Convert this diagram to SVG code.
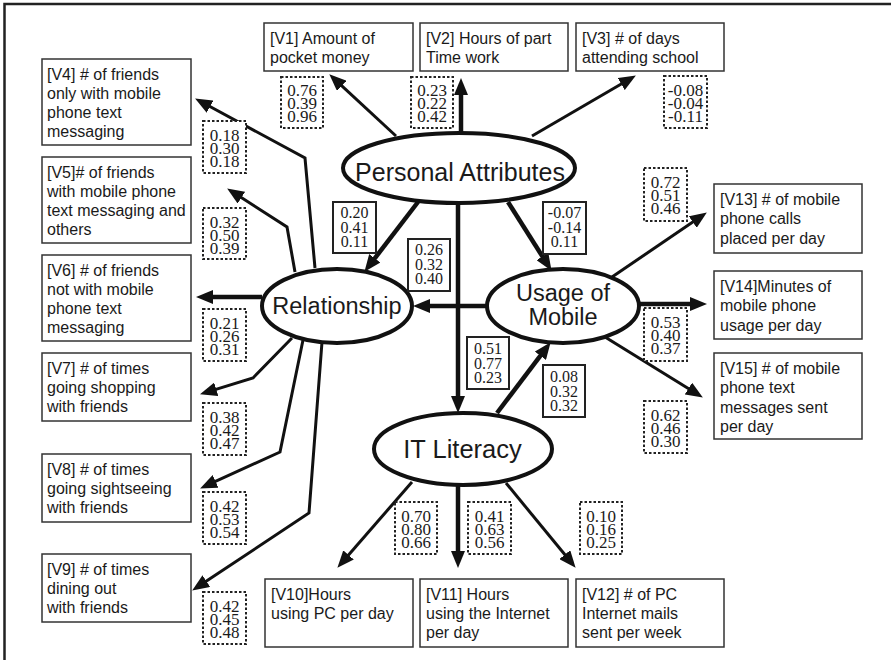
<svg xmlns="http://www.w3.org/2000/svg" width="891" height="660" viewBox="0 0 891 660">
<defs>
<marker id="ah" markerUnits="userSpaceOnUse" markerWidth="17" markerHeight="14" viewBox="0 0 17 14" refX="8" refY="7" orient="auto">
<path d="M0,0 L17,7 L0,14 z" fill="#111"/>
</marker>
<style>
.box{fill:#fff;stroke:#333;stroke-width:1.5}
.bt{font-family:"Liberation Sans",Arial,sans-serif;font-size:16px;fill:#1a1a1a}
.ell{fill:#fff;stroke:#111;stroke-width:4}
.et{font-family:"Liberation Sans",Arial,sans-serif;fill:#1a1a1a;text-anchor:middle}
.dot{fill:#fff;stroke:#222;stroke-width:2;stroke-dasharray:2.5 2}
.sol{fill:#fff;stroke:#222;stroke-width:2}
.ct{font-family:"Liberation Serif","Times New Roman",serif;font-size:17px;fill:#1a1a1a;text-anchor:middle}
.cs{font-family:"Liberation Serif","Times New Roman",serif;font-size:16px;fill:#1a1a1a;text-anchor:middle}
.thin{fill:none;stroke:#111;stroke-width:3;marker-end:url(#ah)}
.thick{fill:none;stroke:#111;stroke-width:4.5;marker-end:url(#ah)}
</style>
</defs>
<rect width="891" height="660" fill="#fff"/>
<path d="M4.5,660 V4 H891" fill="none" stroke="#222" stroke-width="2.5"/>

<g id="connectors">
<path class="thin" d="M396,136 L335.9,80.4"/>
<path class="thick" d="M461,133 L461,87"/>
<path class="thin" d="M532,136 L628.1,80"/>
<path class="thick" d="M418,202 L369.9,264.7"/>
<path class="thick" d="M508,202 L546.7,263.2"/>
<path class="thick" d="M458,203 L458,404"/>
<path class="thick" d="M487,306 L422,306"/>
<path class="thick" d="M497,413 L545.2,349.4"/>
<path class="thick" d="M262,297 L205,297"/>
<path class="thin" d="M315,268 L305,158 L203,102.8"/>
<path class="thin" d="M295,272 L287,227 L234.7,193.3"/>
<path class="thin" d="M292,338 L253,378 L208.6,391.6"/>
<path class="thin" d="M303,340 L280,452 L208.3,484.7"/>
<path class="thin" d="M322,342 L309,513 L199.7,585.6"/>
<path class="thin" d="M612,277 L699.4,217.5"/>
<path class="thick" d="M639,304 L698,304"/>
<path class="thin" d="M605,337 L695.2,392.8"/>
<path class="thin" d="M412,482 L343.3,561"/>
<path class="thick" d="M458,485 L458,559"/>
<path class="thin" d="M506,483 L569.9,560.8"/>
</g>

<g id="personal-attributes"><ellipse class="ell" cx="459" cy="168" rx="116" ry="35"/><text class="et" x="460" y="181" font-size="25">Personal Attributes</text></g>
<g id="relationship"><ellipse class="ell" cx="337" cy="306" rx="75" ry="37"/><text class="et" x="337" y="313.5" font-size="23.5">Relationship</text></g>
<g id="usage-of-mobile"><ellipse class="ell" cx="563" cy="306" rx="76" ry="37"/><text class="et" x="563" y="301" font-size="23.5">Usage of</text><text class="et" x="563" y="324.5" font-size="23.5">Mobile</text></g>
<g id="it-literacy"><ellipse class="ell" cx="463" cy="449" rx="89" ry="36"/><text class="et" x="462.5" y="458" font-size="25.5">IT Literacy</text></g>

<g id="v1"><rect class="box" x="264" y="23" width="149" height="48"/><text class="bt" x="270" y="43.5">[V1] Amount of</text><text class="bt" x="270" y="63">pocket money</text></g>
<g id="v2"><rect class="box" x="420" y="23" width="148" height="48"/><text class="bt" x="426" y="43.5">[V2] Hours of part</text><text class="bt" x="426" y="63">Time work</text></g>
<g id="v3"><rect class="box" x="576" y="23" width="148" height="48"/><text class="bt" x="582" y="43.5">[V3] # of days</text><text class="bt" x="582" y="63">attending school</text></g>

<g id="v4"><rect class="box" x="42" y="59" width="149" height="86"/><text class="bt" x="47" y="79.5">[V4] # of friends</text><text class="bt" x="47" y="98.8">only with mobile</text><text class="bt" x="47" y="118.1">phone text</text><text class="bt" x="47" y="137.4">messaging</text></g>
<g id="v5"><rect class="box" x="42" y="157" width="149" height="86"/><text class="bt" x="47" y="177.5">[V5]# of friends</text><text class="bt" x="47" y="196.8">with mobile phone</text><text class="bt" x="47" y="216.1">text messaging and</text><text class="bt" x="47" y="235.4">others</text></g>
<g id="v6"><rect class="box" x="42" y="255" width="149" height="86"/><text class="bt" x="47" y="275.5">[V6] # of friends</text><text class="bt" x="47" y="294.8">not with mobile</text><text class="bt" x="47" y="314.1">phone text</text><text class="bt" x="47" y="333.4">messaging</text></g>
<g id="v7"><rect class="box" x="42" y="353" width="149" height="68"/><text class="bt" x="47" y="373.5">[V7] # of times</text><text class="bt" x="47" y="392.8">going shopping</text><text class="bt" x="47" y="412.1">with friends</text></g>
<g id="v8"><rect class="box" x="42" y="454" width="149" height="68"/><text class="bt" x="47" y="474.5">[V8] # of times</text><text class="bt" x="47" y="493.8">going sightseeing</text><text class="bt" x="47" y="513.1">with friends</text></g>
<g id="v9"><rect class="box" x="42" y="554" width="149" height="68"/><text class="bt" x="47" y="574.5">[V9] # of times</text><text class="bt" x="47" y="593.8">dining out</text><text class="bt" x="47" y="613.1">with friends</text></g>

<g id="v10"><rect class="box" x="265" y="579" width="148" height="68"/><text class="bt" x="271" y="599.5">[V10]Hours</text><text class="bt" x="271" y="618.8">using PC per day</text></g>
<g id="v11"><rect class="box" x="420" y="579" width="148" height="68"/><text class="bt" x="426" y="599.5">[V11] Hours</text><text class="bt" x="426" y="618.8">using the Internet</text><text class="bt" x="426" y="638.1">per day</text></g>
<g id="v12"><rect class="box" x="576" y="579" width="148" height="68"/><text class="bt" x="582" y="599.5">[V12] # of PC</text><text class="bt" x="582" y="618.8">Internet mails</text><text class="bt" x="582" y="638.1">sent per week</text></g>

<g id="v13"><rect class="box" x="714" y="184" width="148" height="69"/><text class="bt" x="720" y="205">[V13] # of mobile</text><text class="bt" x="720" y="224.3">phone calls</text><text class="bt" x="720" y="243.6">placed per day</text></g>
<g id="v14"><rect class="box" x="714" y="271" width="148" height="68"/><text class="bt" x="720" y="292">[V14]Minutes of</text><text class="bt" x="720" y="311.3">mobile phone</text><text class="bt" x="720" y="330.6">usage per day</text></g>
<g id="v15"><rect class="box" x="714" y="353" width="148" height="86"/><text class="bt" x="720" y="374">[V15] # of mobile</text><text class="bt" x="720" y="393.3">phone text</text><text class="bt" x="720" y="412.6">messages sent</text><text class="bt" x="720" y="431.9">per day</text></g>

<g id="c-v1"><rect class="dot" x="281" y="77" width="42" height="51"/><text class="ct" x="302" y="96">0.76<tspan x="302" dy="13">0.39</tspan><tspan x="302" dy="13">0.96</tspan></text></g>
<g id="c-v2"><rect class="dot" x="411" y="77" width="42" height="51"/><text class="ct" x="432" y="96">0.23<tspan x="432" dy="13">0.22</tspan><tspan x="432" dy="13">0.42</tspan></text></g>
<g id="c-v3"><rect class="dot" x="664" y="76" width="43" height="52"/><text class="ct" x="685.5" y="96">-0.08<tspan x="685.5" dy="13">-0.04</tspan><tspan x="685.5" dy="13">-0.11</tspan></text></g>
<g id="c-v4"><rect class="dot" x="203" y="121" width="43" height="52"/><text class="ct" x="224.5" y="141">0.18<tspan x="224.5" dy="13">0.30</tspan><tspan x="224.5" dy="13">0.18</tspan></text></g>
<g id="c-v5"><rect class="dot" x="203" y="208" width="43" height="51"/><text class="ct" x="224.5" y="228">0.32<tspan x="224.5" dy="13">0.50</tspan><tspan x="224.5" dy="13">0.39</tspan></text></g>
<g id="c-v6"><rect class="dot" x="203" y="309" width="43" height="52"/><text class="ct" x="224.5" y="329">0.21<tspan x="224.5" dy="13">0.26</tspan><tspan x="224.5" dy="13">0.31</tspan></text></g>
<g id="c-v7"><rect class="dot" x="203" y="403" width="43" height="52"/><text class="ct" x="224.5" y="423">0.38<tspan x="224.5" dy="13">0.42</tspan><tspan x="224.5" dy="13">0.47</tspan></text></g>
<g id="c-v8"><rect class="dot" x="203" y="492" width="43" height="52"/><text class="ct" x="224.5" y="512">0.42<tspan x="224.5" dy="13">0.53</tspan><tspan x="224.5" dy="13">0.54</tspan></text></g>
<g id="c-v9"><rect class="dot" x="203" y="592" width="43" height="52"/><text class="ct" x="224.5" y="612">0.42<tspan x="224.5" dy="13">0.45</tspan><tspan x="224.5" dy="13">0.48</tspan></text></g>
<g id="c-v10"><rect class="dot" x="395" y="502" width="42" height="52"/><text class="ct" x="416" y="522">0.70<tspan x="416" dy="13">0.80</tspan><tspan x="416" dy="13">0.66</tspan></text></g>
<g id="c-v11"><rect class="dot" x="468" y="502" width="43" height="52"/><text class="ct" x="489.5" y="522">0.41<tspan x="489.5" dy="13">0.63</tspan><tspan x="489.5" dy="13">0.56</tspan></text></g>
<g id="c-v12"><rect class="dot" x="580" y="502" width="42" height="52"/><text class="ct" x="601" y="522">0.10<tspan x="601" dy="13">0.16</tspan><tspan x="601" dy="13">0.25</tspan></text></g>
<g id="c-v13"><rect class="dot" x="644" y="168" width="43" height="53"/><text class="ct" x="665.5" y="188">0.72<tspan x="665.5" dy="13">0.51</tspan><tspan x="665.5" dy="13">0.46</tspan></text></g>
<g id="c-v14"><rect class="dot" x="644" y="308" width="43" height="53"/><text class="ct" x="665.5" y="328">0.53<tspan x="665.5" dy="13">0.40</tspan><tspan x="665.5" dy="13">0.37</tspan></text></g>
<g id="c-v15"><rect class="dot" x="644" y="401" width="43" height="52"/><text class="ct" x="665.5" y="421">0.62<tspan x="665.5" dy="13">0.46</tspan><tspan x="665.5" dy="13">0.30</tspan></text></g>

<g id="c-pa-rel"><rect class="sol" x="333" y="202" width="43" height="51"/><text class="cs" x="354.5" y="218">0.20<tspan x="354.5" dy="14.5">0.41</tspan><tspan x="354.5" dy="14.5">0.11</tspan></text></g>
<g id="c-pa-use"><rect class="sol" x="543" y="202" width="43" height="52"/><text class="cs" x="564.5" y="218">-0.07<tspan x="564.5" dy="14.5">-0.14</tspan><tspan x="564.5" dy="14.5">0.11</tspan></text></g>
<g id="c-use-rel"><rect class="sol" x="408" y="239" width="42" height="52"/><text class="cs" x="429" y="255">0.26<tspan x="429" dy="14.5">0.32</tspan><tspan x="429" dy="14.5">0.40</tspan></text></g>
<g id="c-pa-it"><rect class="sol" x="467" y="337" width="42" height="52"/><text class="cs" x="488" y="354">0.51<tspan x="488" dy="14.5">0.77</tspan><tspan x="488" dy="14.5">0.23</tspan></text></g>
<g id="c-it-use"><rect class="sol" x="543" y="365" width="42" height="52"/><text class="cs" x="564" y="382">0.08<tspan x="564" dy="14.5">0.32</tspan><tspan x="564" dy="14.5">0.32</tspan></text></g>
</svg>
